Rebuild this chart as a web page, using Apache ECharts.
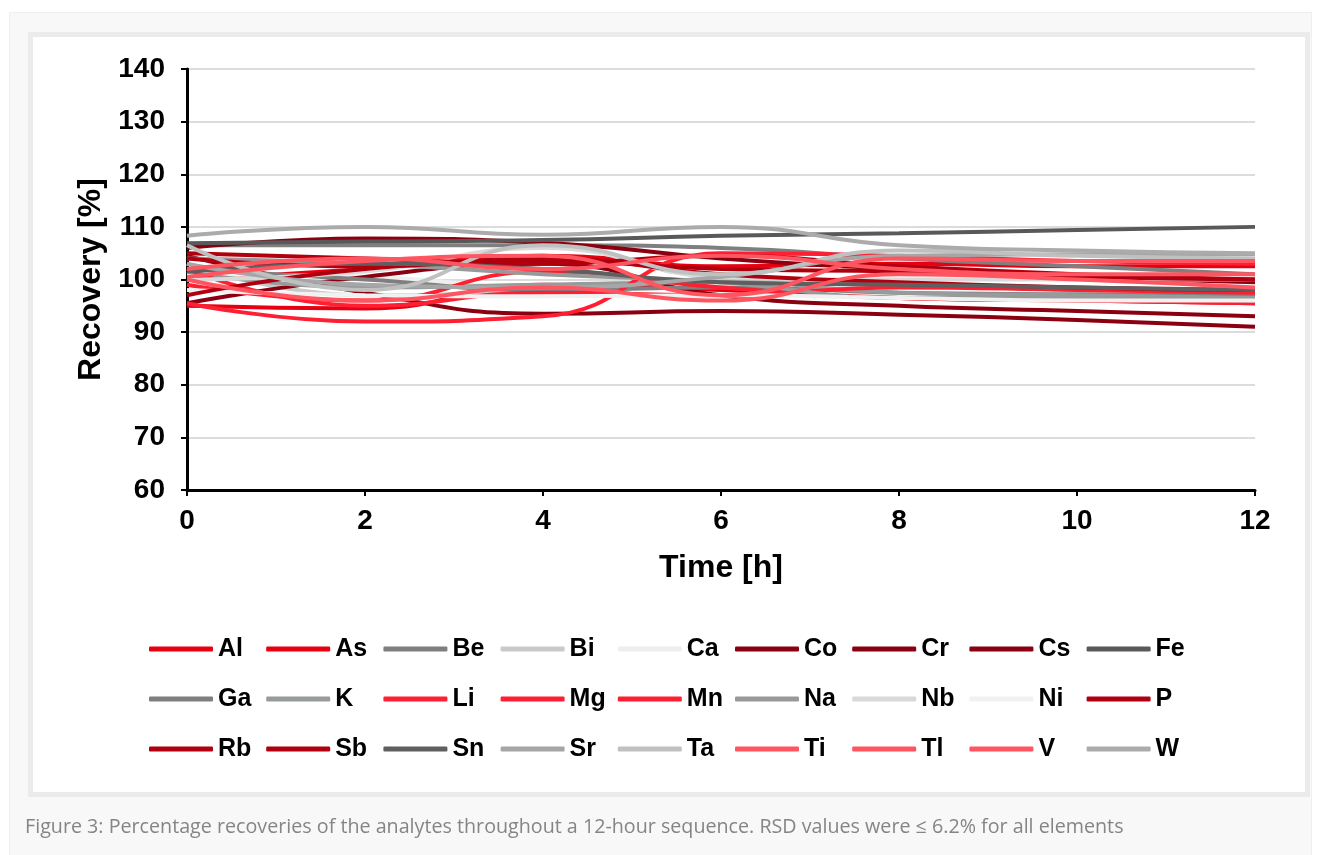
<!DOCTYPE html>
<html>
<head>
<meta charset="utf-8">
<script src="https://cdn.jsdelivr.net/npm/echarts@6/dist/echarts.min.js"></script>
<style>
  body { margin: 0; background: #fff; }
  .outer { position: absolute; left: 9px; top: 12px; width: 1303px; height: 860px;
           background: #f8f8f8; border: 1px solid #efefef; box-sizing: border-box; }
  .inner { position: absolute; left: 28px; top: 32px; width: 1282px; height: 765px;
           background: #fff; border: 5px solid #ebebec; box-sizing: border-box; }
  #chart { position: absolute; left: 0; top: 0; width: 1322px; height: 855px; }
</style>
</head>
<body>
<div class="outer"></div>
<div class="inner"></div>
<div id="chart"></div>
<script>
// sampling times (h)
const hours = [0, 2, 4, 6, 8, 10, 12];

const elements = ['Al', 'As', 'Be', 'Bi', 'Ca', 'Co', 'Cr', 'Cs', 'Fe',
                  'Ga', 'K', 'Li', 'Mg', 'Mn', 'Na', 'Nb', 'Ni', 'P',
                  'Rb', 'Sb', 'Sn', 'Sr', 'Ta', 'Ti', 'Tl', 'V', 'W'];

const colors = ['#e60012', '#e60012', '#7f7f7f', '#c9c9c9', '#eeeeee', '#8b0011', '#8b0011', '#8b0011', '#595959',
                '#7f7f7f', '#979b9b', '#ff1f32', '#ff1f32', '#ff1f32', '#999999', '#d9d9d9', '#f0f1f1', '#b0000f',
                '#b0000f', '#b0000f', '#5f5f5f', '#a6a6a6', '#bfc1c1', '#ff5561', '#ff5561', '#ff5561', '#ababab'];

// recovery [%] at each sampling time
const Al = [95, 94.5, 99, 98, 96.5, 96, 95.5];
const As = [100, 102, 104.5, 102.5, 103, 102.5, 102.5];
const Be = [106.5, 106.5, 106.5, 106, 104, 102.5, 101];
const Bi = [103, 97, 98, 100, 99, 98.5, 98];
const Ca = [101, 100.5, 98, 97, 97, 97, 97];
const Co = [104.5, 97.5, 93.5, 94, 93.3, 92.3, 91];
const Cr = [95.5, 100.5, 103, 97, 95, 94, 93];
const Cs = [106, 107.8, 107, 104, 102, 100.5, 99.5];
const Fe = [106.9, 107.2, 107.5, 108.3, 108.8, 109.4, 110];
const Ga = [102, 100, 98, 98.5, 97.5, 97.2, 97];
const K  = [101.5, 98.5, 99, 99.5, 97.5, 97, 96.5];
const Li = [95.5, 92, 93, 105, 104.5, 103.5, 103];
const Mg = [99, 96, 101.5, 98.5, 96.5, 96, 95.5];
const Mn = [102, 95, 97.5, 97, 98.5, 98, 97.5];
const Na = [104, 103, 101, 99.5, 96.5, 96.5, 96];
const Nb = [100, 101.5, 106, 100.5, 100, 100, 100];
const Ni = [98, 97, 96.8, 97, 96.5, 96, 96];
const P  = [97, 102, 103.5, 102, 101.5, 100.5, 100];
const Rb = [104, 102.5, 104, 101, 99.5, 98.5, 98];
const Sb = [105, 104, 103, 104.5, 102.5, 101, 100];
const Sn = [101.5, 103, 102, 99.5, 99, 98.5, 98];
const Sr = [103, 99, 98.5, 100.5, 104.5, 104.8, 104.8];
const Ta = [106.5, 98, 106.5, 101, 105.5, 104.5, 104];
const Ti = [100.5, 103.5, 104.5, 97, 104, 103.5, 103.5];
const Tl = [100, 96, 98.5, 96, 101, 100, 98.5];
const V  = [102, 104, 102, 104.5, 102, 101, 101];
const W  = [108.3, 110, 108.5, 110, 106.5, 105.5, 105];

const values = [Al, As, Be, Bi, Ca, Co, Cr, Cs, Fe, Ga, K, Li, Mg, Mn, Na, Nb, Ni, P,
                Rb, Sb, Sn, Sr, Ta, Ti, Tl, V, W];

const font = "'Liberation Sans', Arial, sans-serif";
const chart = echarts.init(document.getElementById('chart'));

const rowTops = [635, 685, 735];
const legends = rowTops.map((top, r) => ({
    data: elements.slice(r * 9, r * 9 + 9),
    left: 149,
    top: top,
    padding: 0,
    icon: 'roundRect',
    itemWidth: 64,
    itemHeight: 5,
    itemGap: 8.2,
    selectedMode: false,
    textStyle: {
        fontFamily: font,
        fontSize: 25,
        fontWeight: 'bold',
        color: '#000',
        width: 40,
        lineHeight: 28
    }
}));

chart.setOption({
    animation: false,
    color: colors,
    title: {
        text: 'Figure 3: Percentage recoveries of the analytes throughout a 12-hour sequence. RSD values were ≤ 6.2% for all elements',
        left: 20,
        top: 812,
        textStyle: {
            fontFamily: "'Open Sans', sans-serif",
            fontSize: 19.7,
            fontWeight: 'normal',
            color: '#858585'
        }
    },
    grid: { left: 187, right: 67, top: 69, bottom: 365 },
    legend: legends,
    xAxis: {
        type: 'value',
        min: 0,
        max: 12,
        interval: 2,
        name: 'Time [h]',
        nameLocation: 'middle',
        nameGap: 62,
        nameTextStyle: { fontFamily: font, fontSize: 32, fontWeight: 'bold', color: '#000' },
        axisLine: { show: true, lineStyle: { color: '#000', width: 3 } },
        axisTick: { show: true, length: 6, lineStyle: { color: '#000', width: 2 } },
        axisLabel: { fontFamily: font, fontSize: 28, fontWeight: 'bold', color: '#000', margin: 17 },
        splitLine: { show: false }
    },
    yAxis: {
        type: 'value',
        min: 60,
        max: 140,
        interval: 10,
        name: 'Recovery [%]',
        nameLocation: 'middle',
        nameGap: 80,
        nameTextStyle: { fontFamily: font, fontSize: 32, fontWeight: 'bold', color: '#000' },
        axisLine: { show: true, lineStyle: { color: '#000', width: 3 } },
        axisTick: { show: true, length: 6, lineStyle: { color: '#000', width: 2 } },
        axisLabel: { fontFamily: font, fontSize: 28, fontWeight: 'bold', color: '#000', margin: 22 },
        splitLine: { show: true, lineStyle: { color: '#dcdcdc', width: 2 } }
    },
    series: elements.map((name, i) => ({
        name: name,
        type: 'line',
        smooth: true,
        symbol: 'none',
        lineStyle: { width: 4 },
        emphasis: { disabled: true },
        data: hours.map((h, j) => [h, values[i][j]])
    }))
});
</script>
</body>
</html>
